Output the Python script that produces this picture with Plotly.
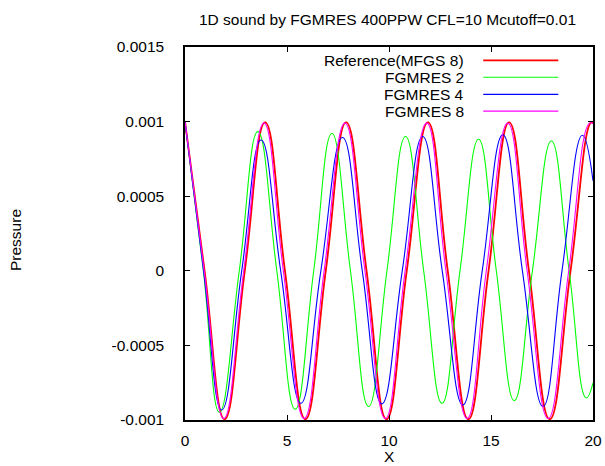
import plotly.graph_objects as go

# Pressure samples (extrema and zero crossings) along X for each solver run
ref_x = [0, 0.96, 1.94, 2.93, 3.93, 4.90, 5.90, 6.90, 7.90, 8.90, 9.88, 10.87,
         11.91, 12.88, 13.89, 14.88, 15.89, 16.86, 17.88, 18.90, 19.90, 20]
ref_p = [1.0e-3, 0, -0.995e-3, 0, 0.995e-3, 0, -0.995e-3, 0, 0.995e-3, 0, -0.995e-3, 0,
         0.995e-3, 0, -0.995e-3, 0, 0.995e-3, 0, -0.995e-3, 0, 0.995e-3, 0.994e-3]

fg2_x = [0, 0.90, 1.69, 2.66, 3.57, 4.50, 5.40, 6.31, 7.20, 8.11, 9.00, 9.90,
         10.81, 11.70, 12.60, 13.48, 14.39, 15.26, 16.14, 17.03, 17.96, 18.83, 19.67, 20]
fg2_p = [1.0e-3, 0, -0.948e-3, 0, 0.933e-3, 0, -0.928e-3, 0, 0.92e-3, 0, -0.91e-3, 0,
         0.90e-3, 0, -0.888e-3, 0, 0.882e-3, 0, -0.87e-3, 0, 0.87e-3, 0, -0.852e-3, -0.751e-3]

fg4_x = [0, 0.91, 1.80, 2.78, 3.73, 4.69, 5.68, 6.66, 7.72, 8.69, 9.65, 10.65,
         11.65, 12.61, 13.62, 14.57, 15.58, 16.54, 17.55, 18.48, 19.48, 20]
fg4_p = [1.0e-3, 0, -0.933e-3, 0, 0.877e-3, 0, -0.888e-3, 0, 0.893e-3, 0, -0.892e-3, 0,
         0.90e-3, 0, -0.899e-3, 0, 0.911e-3, 0, -0.91e-3, 0, 0.909e-3, 0.604e-3]

fg8_x = [0, 0.94, 1.90, 2.88, 3.87, 4.82, 5.84, 6.82, 7.84, 8.82, 9.82, 10.79,
         11.85, 12.79, 13.83, 14.77, 15.82, 16.77, 17.80, 18.81, 19.83, 20]
fg8_p = [1.0e-3, 0, -0.99e-3, 0, 0.99e-3, 0, -0.99e-3, 0, 0.99e-3, 0, -0.99e-3, 0,
         0.99e-3, 0, -0.99e-3, 0, 0.99e-3, 0, -0.99e-3, 0, 0.99e-3, 0.985e-3]

series_names = ["Reference(MFGS 8)", "FGMRES 2", "FGMRES 4", "FGMRES 8"]
series_x = [ref_x, fg2_x, fg4_x, fg8_x]
series_p = [ref_p, fg2_p, fg4_p, fg8_p]
series_colors = ["#ff0000", "#00ff00", "#0000ff", "#ff00ff"]
series_widths = [1.8, 1.1, 1.1, 1.1]

x_ticks = [0, 5, 10, 15, 20]
y_ticks = [-0.001, -0.0005, 0, 0.0005, 0.001, 0.0015]
y_tick_text = ["-0.001", "-0.0005", "0", "0.0005", "0.001", "0.0015"]

FONT = "Liberation Sans, Arial, sans-serif"
FS = 15.5
W, H = 605, 466
L, R, T, B = 185, 12, 47, 46

fig = go.Figure()
for name, xs, ps, col, w in zip(series_names, series_x, series_p, series_colors, series_widths):
    fig.add_trace(go.Scatter(
        x=xs, y=ps, mode="lines", name=name,
        line=dict(color=col, width=w, shape="spline", smoothing=1.3),
        showlegend=False,
    ))

# gnuplot-style key: right-aligned label followed by a line sample
row_y = [0.964, 0.919, 0.873, 0.828]
for name, col, w, yy in zip(series_names, series_colors, series_widths, row_y):
    fig.add_annotation(
        x=0.688, y=yy, xref="paper", yref="paper", text=name, showarrow=False,
        xanchor="right", yanchor="middle",
        font=dict(family=FONT, size=FS, color="#000000"),
    )
    fig.add_shape(
        type="line", xref="paper", yref="paper",
        x0=0.731, x1=0.915, y0=yy, y1=yy,
        line=dict(color=col, width=w),
    )

# axis titles placed in page pixels
plot_w = W - L - R
plot_h = H - T - B
fig.add_annotation(
    x=(389 - L) / plot_w, y=-(456 - (H - B)) / plot_h, xref="paper", yref="paper",
    text="X", showarrow=False, xanchor="center", yanchor="middle",
    font=dict(family=FONT, size=FS, color="#000000"),
)
fig.add_annotation(
    x=(15 - L) / plot_w, y=1 - (240 - T) / plot_h, xref="paper", yref="paper",
    text="Pressure", showarrow=False, textangle=-90, xanchor="center", yanchor="middle",
    font=dict(family=FONT, size=FS, color="#000000"),
)

axis_common = dict(
    showline=True, linecolor="#000000", linewidth=1.5, mirror="ticks",
    ticks="inside", ticklen=5, tickcolor="#000000", tickwidth=1,
    showgrid=False, zeroline=False, automargin=False,
    tickfont=dict(family=FONT, size=FS, color="#000000"),
)

fig.update_layout(
    width=W, height=H,
    margin=dict(l=L, r=R, t=T, b=B, autoexpand=False),
    paper_bgcolor="#ffffff", plot_bgcolor="#ffffff",
    title=dict(
        text="1D sound by FGMRES 400PPW CFL=10 Mcutoff=0.01",
        x=387.5 / W, xanchor="center",
        y=1 - 20 / H, yanchor="middle",
        font=dict(family=FONT, size=FS, color="#000000"),
    ),
    xaxis=dict(
        range=[0, 20], tickvals=x_ticks, ticktext=[str(v) for v in x_ticks],
        ticklabelstandoff=6,
        **axis_common,
    ),
    yaxis=dict(
        range=[-0.001, 0.0015], tickvals=y_ticks, ticktext=y_tick_text,
        ticklabelstandoff=16,
        **axis_common,
    ),
)

fig.write_html("out.html")
